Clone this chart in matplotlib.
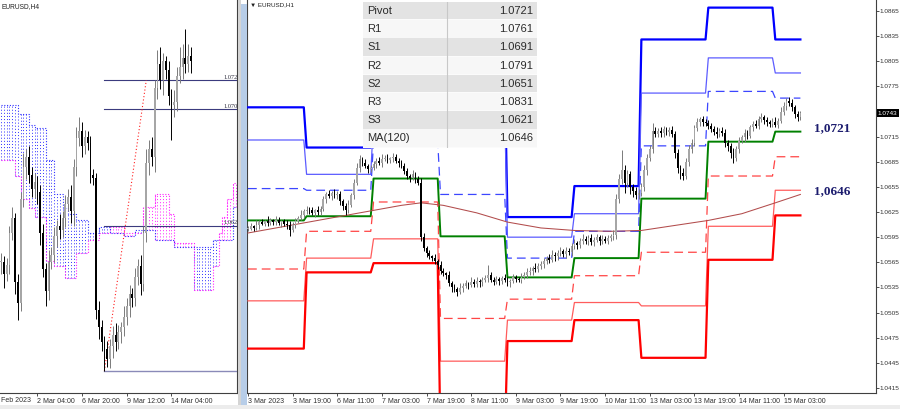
import numpy as np
import matplotlib
matplotlib.use("Agg")
import matplotlib.pyplot as plt
from matplotlib.patches import Rectangle
import matplotlib.transforms as mtransforms

plt.rcParams["font.family"] = ["Liberation Sans", "DejaVu Sans"]

W, H = 900, 409
BASE = 1.05          # candle values are pips above 1.0500
PIP = 10000.0

# ---------------- H1 panel (right) ----------------
H1_CLOSE = [105, 108, 106, 110, 113, 111, 114, 112, 115, 113, 116, 112, 114, 111, 109,
            104, 110, 114, 118, 122, 126, 128,
            127, 124, 127, 125, 129,
            140, 146, 144, 148, 145, 147,
            138, 132, 128, 134,
            145, 160, 178, 188, 184, 180, 176, 178,
            182, 186, 184, 188, 190, 187, 189, 191, 186, 184, 180,
            174, 168, 166, 170, 164,
            160, 95, 82, 76, 72, 70, 66, 62,
            55, 52, 50, 40, 35, 33, 30, 34,
            37, 40, 38, 42, 39, 43, 41, 44, 46, 50, 44,
            42, 45, 43, 46, 44, 41, 43, 47, 45, 44, 48,
            50, 53, 55, 58, 57, 60, 63,
            66, 70, 68, 74, 72, 76, 78, 75, 79, 77,
            84, 88, 86, 90, 93, 91, 94, 89, 92, 95, 90, 93,
            91, 94, 96, 98, 140, 165,
            175, 160, 170, 155, 150, 145, 148,
            155, 175, 190, 200, 222,
            218, 222, 219, 224, 220, 223, 218,
            195, 178, 172, 168, 185, 200, 208,
            225, 232, 236, 233, 231, 228,
            224, 221, 218, 222, 219, 208, 204, 196, 190, 200,
            210, 214, 219, 216, 226, 230, 228,
            236, 238, 235, 232, 230, 233, 229, 234,
            245, 252, 258, 255, 250, 242, 238, 243]
H1_WICK_UP = [3, 4, 2, 5, 3, 4, 2, 6, 3, 2, 4, 3, 2, 3, 4,
              5, 3, 4, 2, 5, 3, 4,
              3, 4, 2, 5, 3,
              4, 3, 5, 2, 4, 3,
              3, 2, 4, 5,
              3, 4, 6, 5, 3, 4, 2, 3,
              4, 3, 5, 6, 3, 4, 2, 5, 3, 4, 3,
              3, 4, 2, 5, 3,
              4, 6, 5, 3, 4, 2, 5, 3,
              4, 3, 2, 5, 3, 4, 2, 6,
              3, 4, 2, 5, 3, 4, 2, 3, 4, 12, 3,
              3, 4, 2, 3, 5, 3, 2, 4, 3, 2, 4,
              3, 5, 4, 3, 6, 4, 3,
              4, 3, 5, 6, 3, 4, 5, 3, 4, 3,
              4, 5, 3, 4, 6, 3, 4, 5, 3, 4, 3, 4,
              3, 4, 3, 5, 6, 5,
              24, 6, 5, 4, 3, 5, 4,
              5, 6, 4, 5, 9,
              4, 3, 5, 4, 3, 4, 5,
              4, 5, 3, 6, 4, 5, 4,
              4, 5, 3, 4, 3, 4,
              3, 4, 5, 3, 4, 5, 3, 4, 5, 4,
              4, 3, 5, 4, 3, 4, 5,
              4, 5, 3, 4, 3, 4, 5, 3,
              5, 4, 3, 4, 5, 3, 4, 3]
H1_WICK_DN = [3, 2, 4, 3, 5, 2, 3, 4, 2, 3, 4, 3, 5, 3, 4,
              8, 3, 4, 2, 3, 4, 3,
              4, 3, 5, 3, 4,
              3, 4, 2, 5, 3, 4,
              4, 5, 6, 4,
              3, 4, 3, 5, 4, 3, 4, 3,
              3, 4, 3, 5, 2, 4, 3, 4, 3, 5, 3,
              4, 3, 5, 3, 4,
              3, 5, 4, 5, 3, 4, 3, 5,
              4, 3, 5, 3, 6, 4, 5, 3,
              4, 3, 5, 3, 4, 3, 5, 4, 3, 4, 3,
              4, 3, 5, 4, 3, 4, 5, 3, 4, 3, 4,
              3, 4, 3, 5, 3, 4, 3,
              5, 3, 4, 3, 5, 4, 3, 4, 5, 3,
              4, 3, 5, 4, 3, 4, 5, 3, 4, 3, 4, 3,
              3, 4, 3, 4, 5, 4,
              6, 12, 5, 8, 7, 5, 4,
              4, 5, 6, 4, 5,
              4, 3, 5, 4, 3, 4, 3,
              5, 6, 7, 5, 4, 5, 4,
              4, 3, 4, 5, 3, 4,
              3, 4, 5, 4, 3, 5, 6, 7, 6, 4,
              4, 3, 5, 4, 3, 4, 3,
              4, 3, 5, 4, 3, 4, 3, 4,
              3, 4, 5, 3, 4, 5, 4, 3]

# daily pivot levels (one value per trading day)
DAY_START = [0, 21, 45, 69, 93, 117, 141, 165, 189]
LAST_BAR = 198
R3 = [1.0750, 1.0702, 1.0781, 1.0795, 1.0619, 1.0656, 1.0831, 1.0869, 1.0831]
R2 = [1.0711, 1.0670, 1.0737, 1.0745, 1.0595, 1.0623, 1.0767, 1.0809, 1.0791]
R1 = [1.0653, 1.0651, 1.0709, 1.0646, 1.0570, 1.0602, 1.0704, 1.0769, 1.0761]
PP = [1.0615, 1.0620, 1.0665, 1.0596, 1.0547, 1.0570, 1.0641, 1.0709, 1.0721]
S1 = [1.0557, 1.0602, 1.0637, 1.0498, 1.0521, 1.0549, 1.0577, 1.0668, 1.0691]
S2 = [1.0519, 1.0570, 1.0593, 1.0447, 1.0496, 1.0517, 1.0513, 1.0608, 1.0651]
S3 = [1.0462, 1.0553, 1.0564, 1.0350, 1.0471, 1.0496, 1.0451, 1.0568, 1.0621]

MA_BARS = [0, 20, 40, 55, 62, 70, 82, 93, 105, 117, 130, 141, 153, 165, 177, 189, 198]
MA_VALUES = [1.0600, 1.0612, 1.0624, 1.0633, 1.0636, 1.0633, 1.0624, 1.0613, 1.0606,
             1.0603, 1.0602, 1.0603, 1.0609, 1.0615, 1.0623, 1.0636, 1.0646]

H1_TICKS = list(range(0, 193, 16))
H1_TICK_LABELS = ["3 Mar 2023", "3 Mar 19:00", "6 Mar 11:00", "7 Mar 03:00", "7 Mar 19:00",
                  "8 Mar 11:00", "9 Mar 03:00", "9 Mar 19:00", "10 Mar 11:00",
                  "13 Mar 03:00", "13 Mar 19:00", "14 Mar 11:00", "15 Mar 03:00"]
PRICE_TICKS = [1.0415 + 0.003 * k for k in range(16)]
LAST_PRICE = 1.0743

TABLE_NAMES = ["Pivot", "R1", "S1", "R2", "S2", "R3", "S3", "MA(120)"]
TABLE_VALUES = [1.0721, 1.0761, 1.0691, 1.0791, 1.0651, 1.0831, 1.0621, 1.0646]
KEY_LABELS = [("1,0721", 1.0721), ("1,0646", 1.0646)]

# ---------------- H4 panel (left) ----------------
H4_CLOSE = [100, 92, 98, 120, 130, 86, 72, 143, 165, 172, 160, 150, 155, 148,
            120, 95, 80, 100, 105, 118, 125, 122, 130, 140, 145, 135, 165,
            185, 190, 180, 186, 182, 160, 158, 67, 55, 45, 40, 33, 42,
            50, 45, 52, 55, 62, 70, 78, 75, 90, 97, 85, 120, 168,
            178, 172, 220, 236, 225, 238, 232, 214, 208, 210, 228, 234,
            240, 236, 242, 238]
H4_WICK_UP = [6, 4, 5, 5, 8, 4, 6, 5, 10, 6, 8, 5, 6, 4,
              5, 6, 4, 8, 5, 6, 4, 8, 5, 6, 5, 8, 6,
              8, 10, 6, 5, 4, 5, 4, 3, 6, 5, 4, 6, 5,
              6, 8, 5, 4, 8, 5, 6, 4, 6, 5, 8, 5, 10,
              6, 8, 5, 10, 12, 6, 4, 6, 5, 8, 6, 14,
              10, 20, 8, 6]
H4_WICK_DN = [8, 10, 5, 6, 5, 8, 12, 6, 5, 8, 6, 5, 6, 8,
              8, 5, 10, 6, 5, 5, 8, 6, 5, 6, 5, 8, 10,
              6, 5, 8, 6, 5, 6, 5, 6, 8, 6, 15, 5, 6,
              8, 6, 5, 8, 6, 5, 8, 6, 5, 6, 8, 5, 6,
              8, 6, 10, 8, 6, 10, 6, 6, 24, 8, 6, 5,
              8, 6, 5, 8]
H4_TICKS = [13, 29, 45, 61]
H4_TICK_LABELS = ["2 Mar 04:00", "6 Mar 20:00", "9 Mar 12:00", "14 Mar 04:00"]

# ichimoku cloud (step values, pips above 1.0500)
CLOUD_BARS = [0, 5, 6, 7, 10, 12, 16, 19, 22, 23, 24, 27, 31, 35, 39, 44, 48,
              51, 55, 60, 62, 69, 76, 78, 79, 81, 83, 86]
SPAN_A = [170, 159, 159, 143, 137, 131, 101, 97, 97, 89, 89, 106, 115, 120, 124, 120,
          120, 138, 147, 133, 113, 81, 97, 120, 131, 143, 154, 154]
SPAN_B = [208, 208, 202, 202, 194, 192, 170, 147, 137, 137, 133, 129, 120, 124, 120, 118,
          122, 122, 115, 115, 110, 110, 115, 115, 115, 115, 138, 138]

FIB_START = 37
FIB_END = 52
FIB_LEVELS = [1.0725, 1.0705, 1.0625]
FIB_LOW = 1.0525


def px_axes(fig, x0, y0, x1, y1, **kw):
    return fig.add_axes([x0 / W, 1 - y1 / H, (x1 - x0) / W, (y1 - y0) / H], **kw)


def draw_candles(ax, close, up, dn):
    c = BASE + np.array(close) / PIP
    o = np.r_[c[0], c[:-1]]
    hi = np.maximum(o, c) + np.array(up) / PIP
    lo = np.minimum(o, c) - np.array(dn) / PIP
    x = np.arange(len(c))
    bull = c >= o
    wick_col = np.where(bull, "#7a7a7a", "#000000")
    body_col = np.where(bull, "#a6a6a6", "#000000")
    ax.vlines(x, lo, hi, colors=wick_col, linewidth=0.7, zorder=4)
    body = np.maximum(np.abs(c - o), 0.00008)
    ax.bar(x, body, bottom=np.minimum(o, c), width=0.62, color=body_col,
           linewidth=0, zorder=5)


def level_path(vals):
    xs, ys = [], []
    ends = DAY_START[1:] + [LAST_BAR + 1]
    for s, e, v in zip(DAY_START, ends, vals):
        xs += [s, e - 1]
        ys += [v, v]
    return xs, ys


fig = plt.figure(figsize=(W / 100, H / 100), dpi=100, facecolor="white")

# frame decorations
fig.patches.append(Rectangle((238 / W, 0), 3 / W, 1, transform=fig.transFigure,
                             facecolor="#d4d4d4", edgecolor="none", zorder=0))
fig.patches.append(Rectangle((241 / W, 0), 6 / W, 1 - 4 / H, transform=fig.transFigure,
                             facecolor="#b7cde8", edgecolor="none", zorder=0))
fig.patches.append(Rectangle((0, 0), 1, 4 / H, transform=fig.transFigure,
                             facecolor="#ececec", edgecolor="none", zorder=0))

# ================= left panel =================
axl = px_axes(fig, 0, 0, 237, 393)
axl.set_facecolor("white")
axl.set_xlim(-0.4, 84.5)
axl.set_ylim(1.05099, 1.07802)

cb = np.array(CLOUD_BARS)
bars = np.arange(cb[0], cb[-1])
idx = np.searchsorted(cb, bars, side="right") - 1
span_a = BASE + np.array(SPAN_A)[idx] / PIP
span_b = BASE + np.array(SPAN_B)[idx] / PIP
cloud_col = np.where(span_b >= span_a, "#3030ff", "#ff20ff")
axl.vlines(bars, np.minimum(span_a, span_b), np.maximum(span_a, span_b),
           colors=cloud_col, linestyles=(0, (1, 2.2)), linewidth=0.7, zorder=1)
axl.step(cb, BASE + np.array(SPAN_A) / PIP, where="post", color="#ff20ff",
         linestyle=(0, (1, 1.5)), linewidth=0.8, zorder=2)
axl.step(cb, BASE + np.array(SPAN_B) / PIP, where="post", color="#3030ff",
         linestyle=(0, (1, 1.5)), linewidth=0.8, zorder=2)

for lv in FIB_LEVELS:
    axl.plot([FIB_START, 90], [lv, lv], color="#3b3b7e", linewidth=0.8, zorder=3)
    axl.text(79.6, lv + 0.00005, f"{lv:.4f}", fontsize=4.6, family="Liberation Serif",
             color="#303040", va="bottom", ha="left", clip_on=True, zorder=6)
axl.plot([FIB_START, 90], [FIB_LOW, FIB_LOW], color="#8a8ab8", linewidth=1.0, zorder=3)
axl.plot([FIB_START, FIB_END], [FIB_LOW, FIB_LEVELS[0]], color="#ff2020",
         linestyle=(0, (1, 2)), linewidth=0.8, zorder=3)

draw_candles(axl, H4_CLOSE, H4_WICK_UP, H4_WICK_DN)

for s in ["top", "left"]:
    axl.spines[s].set_visible(False)
axl.spines["bottom"].set_color("#404040")
axl.spines["right"].set_color("#404040")
axl.set_yticks([])
axl.set_xticks(H4_TICKS, H4_TICK_LABELS)
axl.tick_params(axis="x", length=2.5, width=0.6, pad=1.2, labelsize=5,
                colors="#303030")
for lab in axl.get_xticklabels():
    lab.set_ha("left")
axl.text(0.008, 0.993, "EURUSD,H4", transform=axl.transAxes, fontsize=4.8,
         color="#202020", va="top", ha="left")
fig.text(1 / W, 1 - 400 / H, "Feb 2023", fontsize=5, color="#303030",
         va="center", ha="left")

# ================= right panel =================
axr = px_axes(fig, 247, 0, 876, 393)
axr.set_facecolor("white")
axr.set_xlim(-0.36, 225.1)
axr.set_ylim(1.04090, 1.08781)

styles = [
    (R3, dict(color="#0000ff", linewidth=1.6)),
    (R2, dict(color="#5c5cff", linewidth=0.9)),
    (R1, dict(color="#3c46ff", linewidth=0.9, linestyle=(0, (7, 4)))),
    (PP, dict(color="#008000", linewidth=1.4)),
    (S1, dict(color="#ff4545", linewidth=0.9, linestyle=(0, (7, 4)))),
    (S2, dict(color="#ff5c5c", linewidth=0.9)),
    (S3, dict(color="#ff0000", linewidth=1.6)),
]
for vals, kw in styles:
    xs, ys = level_path(vals)
    axr.plot(xs, ys, zorder=3, **kw)

axr.plot(MA_BARS, MA_VALUES, color="#b24c4c", linewidth=0.75, zorder=3)

draw_candles(axr, H1_CLOSE, H1_WICK_UP, H1_WICK_DN)

for txt, lv in KEY_LABELS:
    axr.text(203, lv + 0.0004, txt, fontsize=9.5, family="Liberation Serif",
             fontweight="bold", color="#1c1c6e", va="center", ha="left", zorder=8)

axr.spines["top"].set_visible(False)
for s in ["left", "right", "bottom"]:
    axr.spines[s].set_color("#404040")
axr.yaxis.tick_right()
# the tick label hidden under the last-price box is left blank, as in the terminal
price_labels = ["" if abs(v - LAST_PRICE) < 0.0015 else f"{v:.4f}" for v in PRICE_TICKS]
axr.set_yticks(PRICE_TICKS, price_labels)
axr.tick_params(axis="y", length=2, width=0.6, pad=0.8, labelsize=4.6,
                colors="#303030")
axr.set_xticks(H1_TICKS, H1_TICK_LABELS)
axr.tick_params(axis="x", length=2.5, width=0.6, pad=1.2, labelsize=5,
                colors="#303030")
for lab in axr.get_xticklabels():
    lab.set_ha("left")

trans = mtransforms.blended_transform_factory(axr.transAxes, axr.transData)
axr.text(1.003, LAST_PRICE, f"{LAST_PRICE:.4f}", transform=trans, fontsize=4.6,
         color="white", va="center", ha="left", zorder=9, clip_on=False,
         bbox=dict(boxstyle="square,pad=0.2", facecolor="black", edgecolor="none"))
fig.text(250 / W, 1 - 5 / H, "▼ EURUSD,H1", fontsize=4.5, color="#202020",
         va="center", ha="left", family=["Liberation Sans", "DejaVu Sans"])

# ================= info table =================
tab = px_axes(fig, 363, 2, 537, 148)
tab.set_zorder(10)
tab.set_xlim(0, 174)
tab.set_ylim(146, 0)
tab.axis("off")
tab.add_patch(Rectangle((0, 0), 174, 146, facecolor="#fbfbfb", edgecolor="none"))
for i, (name, val) in enumerate(zip(TABLE_NAMES, TABLE_VALUES)):
    y0 = i * 18.2
    shade = "#e3e3e3" if i % 2 == 0 else "#f7f7f7"
    tab.add_patch(Rectangle((0, y0), 174, 17.4, facecolor=shade, edgecolor="none"))
    tab.text(4, y0 + 9, name, fontsize=8, color="#2a2a2a", va="center", ha="left")
    tab.text(170, y0 + 9, f"{val:.4f}", fontsize=8, color="#2a2a2a",
             va="center", ha="right")
tab.plot([84, 84], [0, 146], color="#c8c8c8", linewidth=0.8)

fig.savefig("out.png", dpi=100, facecolor=fig.get_facecolor())
